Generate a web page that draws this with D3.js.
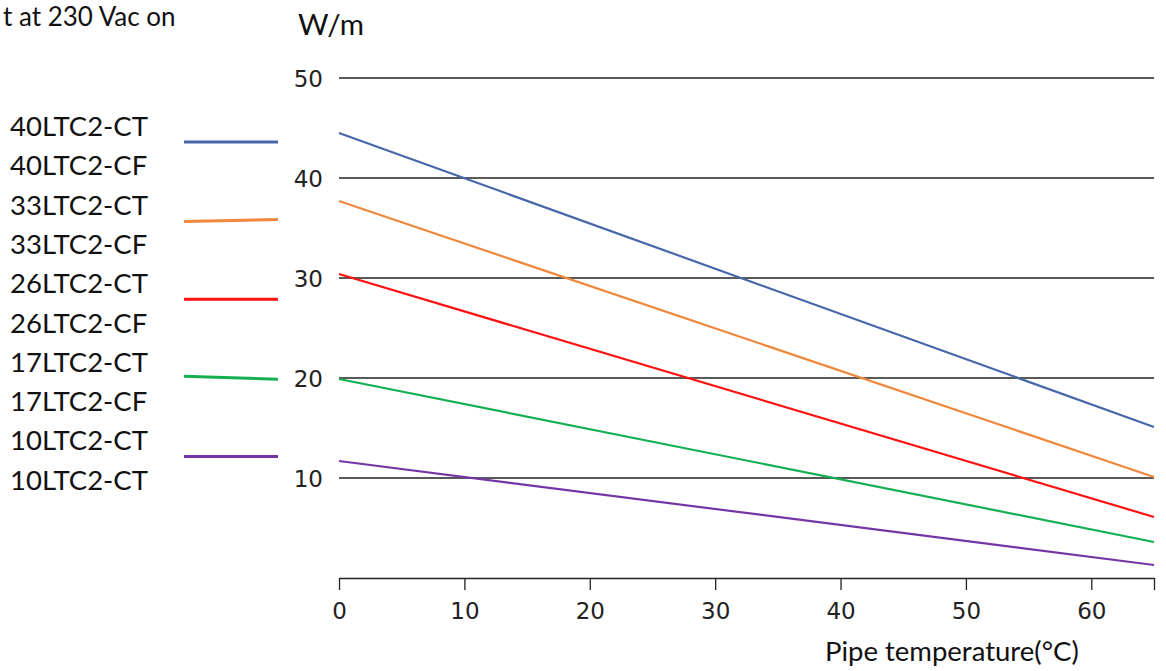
<!doctype html>
<html lang="en">
<head>
  <meta charset="utf-8">
  <title>Heating output vs pipe temperature</title>
  <style>
    body { margin: 0; background: #fff; }
    svg { display: block; }
    .grid line { stroke: #222; stroke-width: 1.3; }
    .tick text { font-family: "DejaVu Sans", sans-serif; fill: #222; }
    .label { font-family: Lato, sans-serif; fill: #111; }
  </style>
</head>
<body>
  <script src="https://d3js.org/d3.v7.min.js" charset="utf-8"></script>
  <script>

// data
var temps = [0, 65];
var seriesNames = ["40LTC2", "33LTC2", "26LTC2", "17LTC2", "10LTC2"];
var blueVals = [44.5, 15.1];
var orangeVals = [37.7, 10.1];
var redVals = [30.4, 6.1];
var greenVals = [19.9, 3.6];
var purpleVals = [11.7, 1.3];
var legendLabels = ["40LTC2-CT", "40LTC2-CF", "33LTC2-CT", "33LTC2-CF", "26LTC2-CT",
                    "26LTC2-CF", "17LTC2-CT", "17LTC2-CF", "10LTC2-CT", "10LTC2-CT"];
var yTicks = [10, 20, 30, 40, 50];
var xTicks = [0, 10, 20, 30, 40, 50, 60, 65];
var xTickLabels = ["0", "10", "20", "30", "40", "50", "60", ""];

var colors = ["#4667aa", "#f0883c", "#ff1111", "#14b050", "#7436a4"];
var allVals = [blueVals, orangeVals, redVals, greenVals, purpleVals];

var W = 1166, H = 671;
var svg = d3.select("body").append("svg")
    .attr("width", W).attr("height", H);

var x = d3.scaleLinear().domain([0, 65]).range([339, 1154]);
var y = d3.scaleLinear().domain([0, 50]).range([578, 78]);

// horizontal grid lines (at the y ticks)
svg.append("g").attr("class", "grid")
  .selectAll("line").data(yTicks).enter().append("line")
    .attr("x1", x(0)).attr("x2", x(65))
    .attr("y1", function(d){ return y(d); })
    .attr("y2", function(d){ return y(d); });

// y tick labels
var yAxis = d3.axisLeft(y).tickValues(yTicks).tickSize(0).tickPadding(16);
svg.append("g").attr("transform", "translate(" + x(0) + ",0)")
  .call(yAxis)
  .call(function(g){ g.select(".domain").remove(); })
  .selectAll("text").style("font-size", "23px").attr("dy", "0.36em");

// x axis
var xAxis = d3.axisBottom(x).tickValues(xTicks)
    .tickFormat(function(d, i){ return xTickLabels[i]; })
    .tickSize(12).tickSizeOuter(0).tickPadding(13);
var gx = svg.append("g").attr("transform", "translate(0," + y(0) + ")").call(xAxis);
gx.select(".domain").attr("stroke", "#222").attr("stroke-width", 1.3);
gx.selectAll(".tick line").attr("stroke", "#222").attr("stroke-width", 1.3);
gx.selectAll("text").style("font-size", "23px");

// series lines
var line = d3.line()
  .x(function(d, i){ return x(temps[i]); })
  .y(function(d){ return y(d); });

svg.selectAll(".series").data(allVals).enter().append("path")
  .attr("class", "series")
  .attr("d", line)
  .attr("fill", "none")
  .attr("stroke", function(d, i){ return colors[i]; })
  .attr("stroke-width", 2.2);

// legend: labels on the left, a line segment for each pair
var rowY = function(i){ return 136 + i * 39.3; };
svg.selectAll(".leg").data(legendLabels).enter().append("text")
  .attr("class", "label")
  .attr("x", 10).attr("y", function(d, i){ return rowY(i); })
  .style("font-size", "27.5px")
  .text(function(d){ return d; });

// little tilt on some of the legend lines, as in the picture
var legTilt = [0, -2, 0, 3, 0];
svg.selectAll(".legline").data(seriesNames).enter().append("line")
  .attr("x1", 184).attr("x2", 278)
  .attr("y1", function(d, i){ return rowY(2 * i) + 6 - legTilt[i] / 2; })
  .attr("y2", function(d, i){ return rowY(2 * i) + 6 + legTilt[i] / 2; })
  .attr("stroke", function(d, i){ return colors[i]; })
  .attr("stroke-width", 3);

// titles
svg.append("text").attr("class", "label")
  .attr("x", 298).attr("y", 35).style("font-size", "29.5px").text("W/m");
svg.append("text").attr("class", "label")
  .attr("x", 3).attr("y", 26).style("font-size", "26px").text("t at 230 Vac on");
svg.append("text").attr("class", "label")
  .attr("x", 825).attr("y", 661).style("font-size", "27.5px").text("Pipe temperature(°C)");

  </script>
</body>
</html>
